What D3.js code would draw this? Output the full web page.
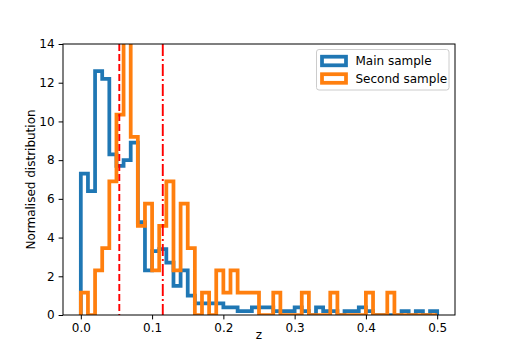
<!DOCTYPE html>
<html>
<head>
<meta charset="utf-8">
<script src="https://cdn.jsdelivr.net/npm/d3@7"></script>
<style>
  body { margin: 0; background: #fff; }
  text { font-family: "DejaVu Sans", sans-serif; }
</style>
</head>
<body>
<div id="frame"></div>
<script>
// bin edges (z) shared by both histograms
const binEdges = [0.00, 0.01, 0.02, 0.03, 0.04, 0.05, 0.06, 0.07, 0.08, 0.09,
                  0.10, 0.11, 0.12, 0.13, 0.14, 0.15, 0.16, 0.17, 0.18, 0.19,
                  0.20, 0.21, 0.22, 0.23, 0.24, 0.25, 0.26, 0.27, 0.28, 0.29,
                  0.30, 0.31, 0.32, 0.33, 0.34, 0.35, 0.36, 0.37, 0.38, 0.39,
                  0.40, 0.41, 0.42, 0.43, 0.44, 0.45, 0.46, 0.47, 0.48, 0.49, 0.50];

// normalised heights
const mainSample = [7.3, 6.4, 12.6, 12.2, 8.3, 7.7, 8.0, 8.9, 4.8, 2.3,
                    3.3, 3.4, 2.7, 1.5, 2.3, 1.0, 0.6, 0.6, 0.6, 0.6,
                    0.4, 0.4, 0.2, 0.2, 0.4, 0.4, 0.4, 0.2, 0.2, 0.2,
                    0.4, 0.2, 0.0, 0.4, 0.2, 0.2, 0.0, 0.2, 0.2, 0.4,
                    0.2, 0.0, 0.0, 0.0, 0.0, 0.2, 0.0, 0.2, 0.0, 0.2];

const secondSample = [1.15, 0, 2.3, 3.45, 6.9, 10.35, 14.95, 9.2, 4.6, 5.75,
                      2.3, 4.6, 6.9, 2.3, 5.75, 3.45, 0, 1.15, 0, 2.3,
                      1.15, 2.3, 1.15, 1.15, 1.15, 0, 0, 1.15, 0, 0,
                      0, 1.15, 0, 0, 0, 1.15, 0, 0, 0, 0,
                      1.15, 0, 0, 1.15, 0, 0, 0, 0, 0, 0];

const seriesNames = ["Main sample", "Second sample"];
const seriesColors = ["#1f77b4", "#ff7f0e"];

const zDashed = 0.054;
const zDashDot = 0.115;

const xTicks = [0.0, 0.1, 0.2, 0.3, 0.4, 0.5];
const yTicks = [0, 2, 4, 6, 8, 10, 12, 14];

// layout
const frameWidth = 505;
const frameHeight = 360;
const plotLeft = 63, plotRight = 455, plotTop = 44, plotBottom = 315;
const fontSize = 12;

let svg = d3.select("#frame")
        .append("svg")
        .attr("width", frameWidth)
        .attr("height", frameHeight);

let xScale = d3.scaleLinear()
        .domain([-0.025, 0.525])
        .range([plotLeft, plotRight]);

let yScale = d3.scaleLinear()
        .domain([0, 14])
        .range([plotBottom, plotTop]);

svg.append("clipPath")
        .attr("id", "plotClip")
        .append("rect")
        .attr("x", plotLeft)
        .attr("y", plotTop)
        .attr("width", plotRight - plotLeft)
        .attr("height", plotBottom - plotTop);

let plot = svg.append("g").attr("clip-path", "url(#plotClip)");

function stepPoints(values) {
    let pts = [[binEdges[0], 0]];
    values.forEach((v, i) => {
        pts.push([binEdges[i], v]);
        pts.push([binEdges[i + 1], v]);
    });
    pts.push([binEdges[binEdges.length - 1], 0]);
    return pts;
}

let line = d3.line()
        .x(d => xScale(d[0]))
        .y(d => yScale(d[1]));

[mainSample, secondSample].forEach((values, i) => {
    plot.append("path")
        .attr("d", line(stepPoints(values)))
        .attr("fill", "none")
        .attr("stroke", seriesColors[i])
        .attr("stroke-width", 3.75)
        .attr("stroke-linejoin", "miter");
});

// vertical reference lines
plot.append("line")
        .attr("x1", xScale(zDashed)).attr("x2", xScale(zDashed))
        .attr("y1", plotTop).attr("y2", plotBottom)
        .attr("stroke", "red")
        .attr("stroke-width", 1.9)
        .attr("stroke-dasharray", "7,3");

plot.append("line")
        .attr("x1", xScale(zDashDot)).attr("x2", xScale(zDashDot))
        .attr("y1", plotTop).attr("y2", plotBottom)
        .attr("stroke", "red")
        .attr("stroke-width", 1.9)
        .attr("stroke-dasharray", "12,3,2,3");

// axes
let xAxis = svg.append("g")
        .attr("transform", "translate(0," + plotBottom + ")")
        .call(d3.axisBottom(xScale).tickValues(xTicks).tickFormat(d3.format(".1f")).tickSizeOuter(0).tickSize(4.4).tickPadding(4));

let yAxis = svg.append("g")
        .attr("transform", "translate(" + plotLeft + ",0)")
        .call(d3.axisLeft(yScale).tickValues(yTicks).tickSizeOuter(0).tickSize(4.4).tickPadding(4));

[xAxis, yAxis].forEach(ax => {
    ax.select(".domain").remove();
    ax.selectAll("line").attr("stroke", "#000").attr("stroke-width", 1);
    ax.selectAll("text")
        .attr("fill", "#000")
        .style("font-size", fontSize + "px")
        .style("font-family", "DejaVu Sans");
});

// frame
svg.append("rect")
        .attr("x", plotLeft)
        .attr("y", plotTop)
        .attr("width", plotRight - plotLeft)
        .attr("height", plotBottom - plotTop)
        .attr("fill", "none")
        .attr("stroke", "#000")
        .attr("stroke-width", 1);

// axis labels
svg.append("text")
        .attr("x", (plotLeft + plotRight) / 2)
        .attr("y", 339)
        .attr("text-anchor", "middle")
        .style("font-size", fontSize + "px")
        .text("z");

svg.append("text")
        .attr("transform", "rotate(-90)")
        .attr("x", -(plotTop + plotBottom) / 2)
        .attr("y", 35)
        .attr("text-anchor", "middle")
        .style("font-size", fontSize + "px")
        .text("Normalised distribution");

// legend
let legend = svg.append("g");

legend.append("rect")
        .attr("x", 316.5)
        .attr("y", 49.5)
        .attr("width", 132.5)
        .attr("height", 40.5)
        .attr("rx", 2.5)
        .attr("fill", "#fff")
        .attr("fill-opacity", 0.8)
        .attr("stroke", "#cccccc")
        .attr("stroke-width", 1);

seriesNames.forEach((name, i) => {
    let cy = 61 + i * 17.5;
    legend.append("rect")
        .attr("x", 322)
        .attr("y", cy - 4.3)
        .attr("width", 24)
        .attr("height", 8.6)
        .attr("fill", "none")
        .attr("stroke", seriesColors[i])
        .attr("stroke-width", 3.75);
    legend.append("text")
        .attr("x", 355.5)
        .attr("y", cy)
        .attr("dy", "0.36em")
        .style("font-size", fontSize + "px")
        .text(name);
});
</script>
</body>
</html>
